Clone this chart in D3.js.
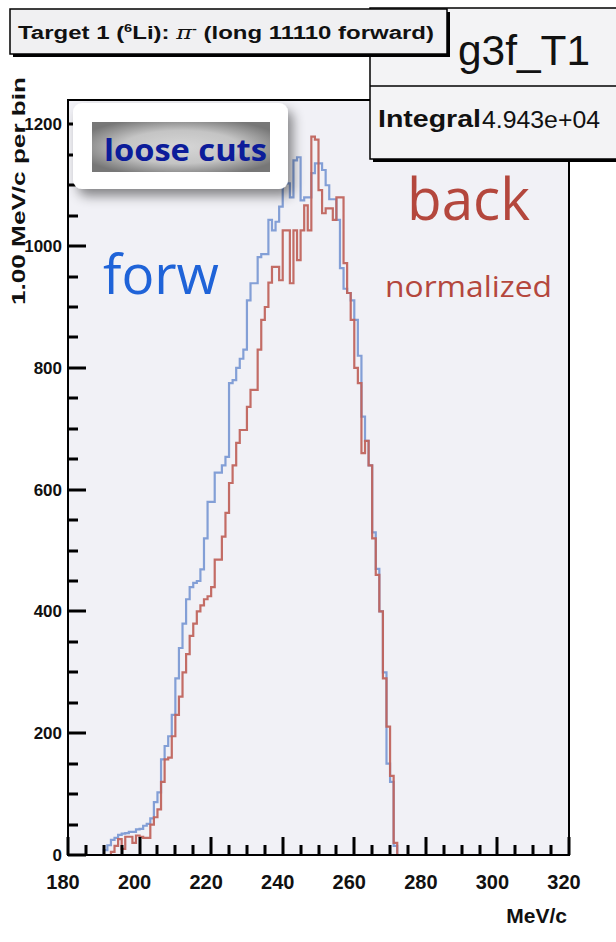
<!DOCTYPE html>
<html><head><meta charset="utf-8">
<script src="https://cdn.jsdelivr.net/npm/d3@7"></script>
<style>body{margin:0;background:#fff;} svg{display:block;}</style>
</head><body>
<script>
// ---- data ----
const binStart = 180, binWidth = 1; // 1.00 MeV/c per bin, bins 180..319
const forwValues = [
  0,0,0,0,0,0,0,0,0,0,
  8,16,25,28,33,35,36,38,38,42,
  43,48,51,60,87,103,157,179,195,230,
  290,340,380,420,440,447,450,469,520,580,
  580,628,628,640,654,775,780,800,815,830,
  911,939,939,982,987,987,1043,1026,1040,1065,
  1103,1103,1080,1141,1146,1075,1080,1080,1120,1136,
  1136,1125,1100,1077,1077,1043,964,930,923,911,
  879,820,720,680,640,530,470,400,300,150,
  120,15,0,0,0,0,0,0,0,0,
  0,0,0,0,0,0,0,0,0,0,
  0,0,0,0,0,0,0,0,0,0,
  0,0,0,0,0,0,0,0,0,0,
  0,0,0,0,0,0,0,0,0,0
];
const backValues = [
  0,0,0,0,0,0,0,0,0,0,
  0,0,5,15,26,10,30,30,20,32,
  30,28,28,50,62,75,120,157,160,195,
  230,260,300,330,360,380,400,410,420,425,
  440,485,485,523,562,611,640,677,698,698,
  736,764,764,830,879,900,940,966,966,944,
  1026,1026,939,1026,977,1026,1067,1026,1180,1175,
  1092,1054,1062,1062,1043,1080,1080,972,923,879,
  800,775,660,680,640,520,460,400,290,211,
  130,20,0,0,0,0,0,0,0,0,
  0,0,0,0,0,0,0,0,0,0,
  0,0,0,0,0,0,0,0,0,0,
  0,0,0,0,0,0,0,0,0,0,
  0,0,0,0,0,0,0,0,0,0
];
const xTicks = [180,200,220,240,260,280,300,320];
const yTicks = [0,200,400,600,800,1000,1200];
const xDomain = [180,320];
const yDomain = [0,1240];
const titleText = ["Target 1 (", "6", "Li): ", "π", "-", " (long 11110 forward)"];
const histName = "g3f_T1";
const statLabel = "Integral", statValue = "4.943e+04";
const xTitle = "MeV/c", yTitle = "1.00 MeV/c per bin";
const legendText = "loose cuts";
const notes = {forw:"forw", back:"back", norm:"normalized"};

// ---- drawing ----
const W = 616, H = 942;
const svg = d3.select("body").append("svg").attr("width", W).attr("height", H);
const defs = svg.append("defs");
const sh = defs.append("filter").attr("id","shadow").attr("x","-30%").attr("y","-30%").attr("width","170%").attr("height","180%");
sh.append("feDropShadow").attr("dx",5).attr("dy",7).attr("stdDeviation",6).attr("flood-color","#000").attr("flood-opacity",0.45);
const rg = defs.append("radialGradient").attr("id","gbox").attr("cx","50%").attr("cy","50%").attr("r","60%");
rg.append("stop").attr("offset","0%").attr("stop-color","#d6d6d6");
rg.append("stop").attr("offset","55%").attr("stop-color","#c4c4c4");
rg.append("stop").attr("offset","100%").attr("stop-color","#777");
defs.append("clipPath").attr("id","clipP").append("rect").attr("x",66).attr("y",100).attr("width",506).attr("height",757);

svg.append("rect").attr("width",W).attr("height",H).attr("fill","#fff");

const x = d3.scaleLinear().domain(xDomain).range([68,569]);
const y = d3.scaleLinear().domain(yDomain).range([855,100]);

// plot area
svg.append("rect").attr("x",x(xDomain[0])).attr("y",y(yDomain[1])).attr("width",x(xDomain[1])-x(xDomain[0])).attr("height",y(0)-y(yDomain[1])).attr("fill","#f1f1f6");

const axFont = "'Liberation Sans', Arial, sans-serif";
const xMinor = d3.range(180, 321, 5);
const yMinor = d3.range(0, 1240, 50);

// tick labels
svg.append("g").selectAll("text").data(xTicks).join("text")
  .attr("x",d=>x(d)-5).attr("y",889).attr("text-anchor","middle")
  .attr("font-family",axFont).attr("font-weight","bold").attr("font-size",20).attr("fill","#111").text(d=>d);
svg.append("g").selectAll("text").data(yTicks).join("text")
  .attr("x",62).attr("y",d=>y(d)+6).attr("text-anchor","end")
  .attr("font-family",axFont).attr("font-weight","bold").attr("font-size",17).attr("fill","#111").text(d=>d);

// histograms
function stepPoints(vals){ const pts=[]; vals.forEach((v,i)=>{ const x0=binStart+i*binWidth; pts.push([x0,v],[x0+binWidth,v]); }); return pts; }
const line = d3.line().x(d=>x(d[0])).y(d=>y(d[1]));
const hg = svg.append("g").attr("clip-path","url(#clipP)");
hg.append("path").attr("d",line(stepPoints(forwValues))).attr("fill","none").attr("stroke","#839fd6").attr("stroke-width",2.2);
hg.append("path").attr("d",line(stepPoints(backValues))).attr("fill","none").attr("stroke","#c0645d").attr("stroke-width",2.2).attr("stroke-opacity",0.95);

// frame
svg.append("rect").attr("x",x(180)).attr("y",y(yDomain[1])).attr("width",x(320)-x(180)).attr("height",y(0)-y(yDomain[1])).attr("fill","none").attr("stroke","#000").attr("stroke-width",2);

// ticks (inside the frame, ROOT style) as one path
const tp = d3.path();
xMinor.forEach(d=>{ const L = xTicks.includes(d)?18:10; tp.moveTo(Math.round(x(d)), y(0)); tp.lineTo(Math.round(x(d)), y(0)-L); });
yMinor.forEach(d=>{ const L = yTicks.includes(d)?18:10; tp.moveTo(x(180), Math.round(y(d))); tp.lineTo(x(180)+L, Math.round(y(d))); });
svg.append("path").attr("d", tp.toString()).attr("fill","none").attr("stroke","#000").attr("stroke-width",3);

// legend box
svg.append("rect").attr("x",73).attr("y",103).attr("width",215).attr("height",86).attr("rx",9).attr("fill","#fff").attr("filter","url(#shadow)");
svg.append("rect").attr("x",92).attr("y",122).attr("width",178).attr("height",50).attr("fill","url(#gbox)");
svg.append("text").attr("x",104).attr("y",161).attr("font-family","'Open Sans', sans-serif").attr("font-weight","bold").attr("font-size",30).attr("fill","#0c1c9a").attr("textLength",163).attr("lengthAdjust","spacingAndGlyphs").text(legendText);

// annotations
svg.append("text").attr("x",103).attr("y",294).attr("font-family","'Open Sans', sans-serif").attr("font-size",54).attr("fill","#1f63d8").attr("textLength",116).attr("lengthAdjust","spacingAndGlyphs").text(notes.forw);
svg.append("text").attr("x",407).attr("y",220).attr("font-family","'Open Sans', sans-serif").attr("font-size",58).attr("fill","#b4473d").attr("textLength",123).attr("lengthAdjust","spacingAndGlyphs").text(notes.back);
svg.append("text").attr("x",385).attr("y",297).attr("font-family","'Open Sans', sans-serif").attr("font-size",29).attr("fill","#b4473d").attr("textLength",167).attr("lengthAdjust","spacingAndGlyphs").text(notes.norm);

// stats box
svg.append("rect").attr("x",373).attr("y",11).attr("width",260).attr("height",151).attr("fill","#000");
svg.append("rect").attr("x",370).attr("y",8).attr("width",260).attr("height",151).attr("fill","#f3f3f5").attr("stroke","#000").attr("stroke-width",1.5);
svg.append("line").attr("x1",370).attr("x2",630).attr("y1",86).attr("y2",86).attr("stroke","#000").attr("stroke-width",1.5);
svg.append("text").attr("x",458).attr("y",65).attr("font-family",axFont).attr("font-size",43).attr("fill","#111").attr("textLength",132).attr("lengthAdjust","spacingAndGlyphs").text(histName);
svg.append("text").attr("x",378).attr("y",127).attr("font-family",axFont).attr("font-weight","bold").attr("font-size",24).attr("fill","#111").attr("textLength",103).attr("lengthAdjust","spacingAndGlyphs").text(statLabel);
svg.append("text").attr("x",482).attr("y",128).attr("font-family",axFont).attr("font-size",24).attr("fill","#111").attr("textLength",118).attr("lengthAdjust","spacingAndGlyphs").text(statValue);

// title box
svg.append("rect").attr("x",13).attr("y",12).attr("width",437).attr("height",45).attr("fill","#000");
svg.append("rect").attr("x",10).attr("y",9).attr("width",437).attr("height",45).attr("fill","#f0f0f2").attr("stroke","#000").attr("stroke-width",1.5);
const tt = svg.append("text").attr("x",18).attr("y",39).attr("font-family",axFont).attr("font-weight","bold").attr("font-size",18).attr("fill","#111").attr("textLength",416).attr("lengthAdjust","spacingAndGlyphs");
tt.append("tspan").text(titleText[0]);
tt.append("tspan").attr("dy",-7).attr("font-size",11).text(titleText[1]);
tt.append("tspan").attr("dy",7).text(titleText[2]);
tt.append("tspan").attr("font-family","'DejaVu Serif', serif").attr("font-style","italic").attr("font-weight","normal").text(titleText[3]);
tt.append("tspan").attr("dy",-7).attr("font-size",11).text(titleText[4]);
tt.append("tspan").attr("dy",7).text(titleText[5]);

// axis titles
svg.append("text").attr("x",567).attr("y",923).attr("text-anchor","end").attr("font-family",axFont).attr("font-weight","bold").attr("font-size",21).attr("fill","#111").text(xTitle);
svg.append("text").attr("transform","translate(25,305) rotate(-90)").attr("font-family",axFont).attr("font-weight","bold").attr("font-size",18).attr("fill","#111").attr("textLength",228).attr("lengthAdjust","spacingAndGlyphs").text(yTitle);
</script>
</body></html>
